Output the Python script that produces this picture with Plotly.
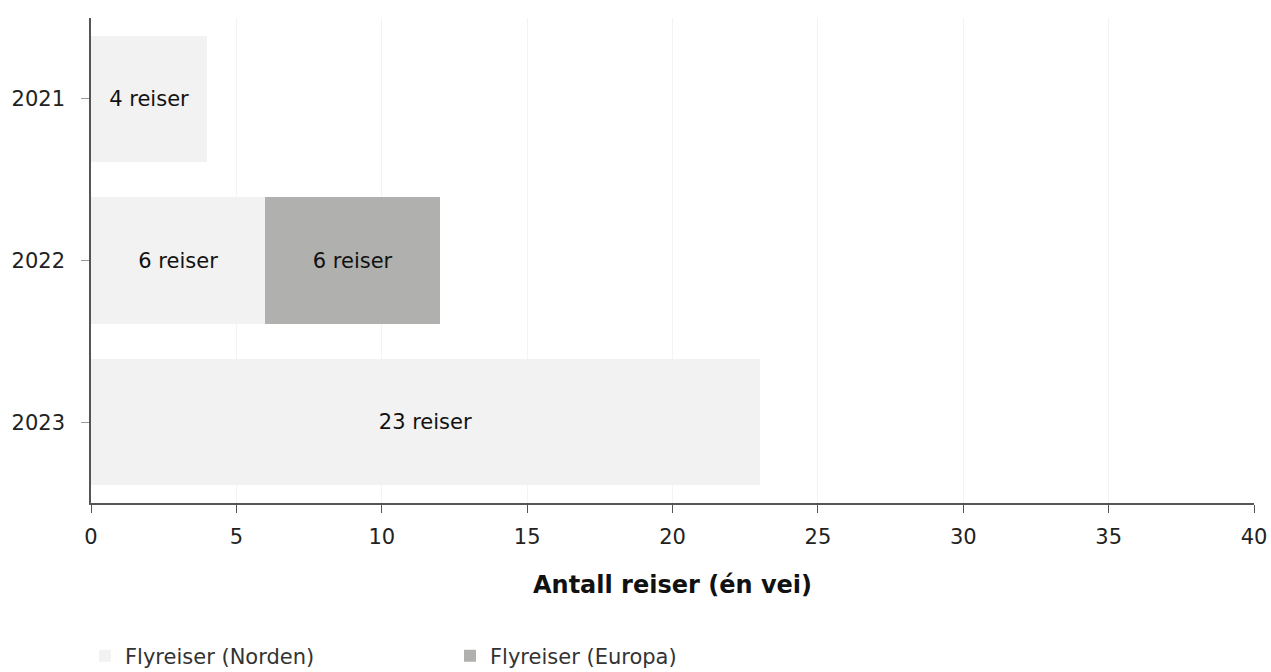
import plotly.graph_objects as go

years = ["2021", "2022", "2023"]
norden = [4, 6, 23]
europa = [None, 6, None]
norden_text = ["4 reiser", "6 reiser", "23 reiser"]
europa_text = ["", "6 reiser", ""]
x_ticks = [0, 5, 10, 15, 20, 25, 30, 35, 40]

FONT = "DejaVu Sans, Verdana, sans-serif"
W, H = 1271, 672

fig = go.Figure()
fig.add_trace(go.Bar(
    y=years, x=norden, orientation="h", name="Flyreiser (Norden)",
    marker=dict(color="#f2f2f2", line=dict(width=0)),
    text=norden_text, textposition="inside", insidetextanchor="middle",
    textfont=dict(family=FONT, size=21, color="#111111"),
))
fig.add_trace(go.Bar(
    y=years, x=europa, orientation="h", name="Flyreiser (Europa)",
    marker=dict(color="#b0b0ae", line=dict(width=0)),
    text=europa_text, textposition="inside", insidetextanchor="middle",
    textfont=dict(family=FONT, size=21, color="#111111"),
))

fig.update_layout(
    width=W, height=H,
    barmode="stack", bargap=0.22,
    plot_bgcolor="white", paper_bgcolor="white",
    margin=dict(l=91, r=17, t=18, b=169, autoexpand=False),
    font=dict(family=FONT, size=21, color="#222222"),
    showlegend=True,
    legend=dict(orientation="h", xref="container", yref="container",
                x=85 / W, xanchor="left", y=1 - 656 / H, yanchor="middle",
                entrywidth=320, entrywidthmode="pixels",
                font=dict(family=FONT, size=21, color="#333333"),
                traceorder="normal"),
    uniformtext=dict(mode=False),
)
fig.update_xaxes(
    range=[0, 40], tickvals=x_ticks, ticktext=[str(v) for v in x_ticks],
    showgrid=True, gridcolor="#f3f3f3", gridwidth=1, zeroline=False,
    showline=True, linecolor="#555555", linewidth=1.5,
    ticks="outside", ticklen=8, tickcolor="#555555", ticklabelstandoff=6,
    tickfont=dict(family=FONT, size=21, color="#222222"),
    title=dict(text="<b>Antall reiser (én vei)</b>", standoff=28,
               font=dict(family=FONT, size=24, color="#111111")),
    automargin=False,
)
fig.update_yaxes(
    categoryorder="array", categoryarray=years, autorange="reversed",
    showgrid=False, zeroline=False,
    showline=True, linecolor="#555555", linewidth=1.5,
    ticks="outside", ticklen=8, tickcolor="#999999", ticklabelstandoff=12,
    tickfont=dict(family=FONT, size=21, color="#222222"),
    automargin=False,
)

fig.write_html(
    "out.html",
    config={"displayModeBar": False},
    post_script="document.body.style.margin='0';document.body.style.overflow='hidden';",
)
